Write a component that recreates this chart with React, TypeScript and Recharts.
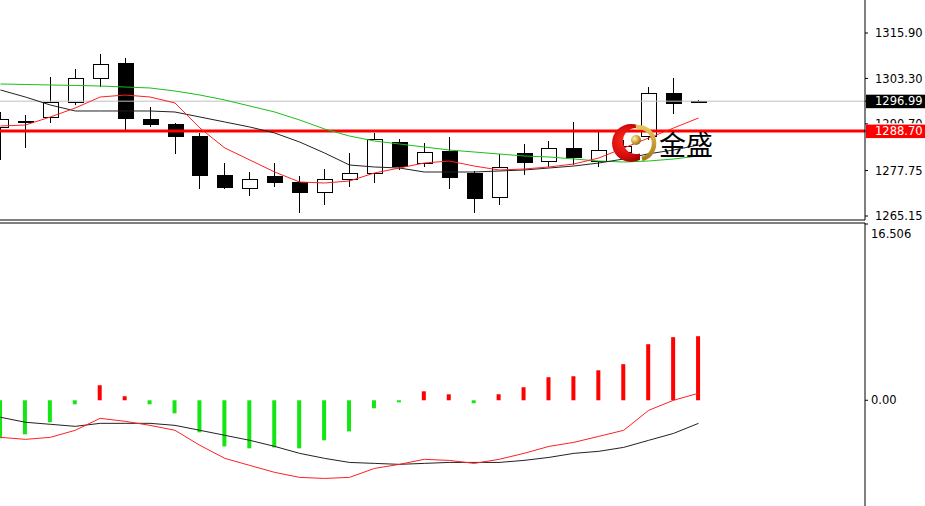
import { ComposedChart, Bar, Line, XAxis, YAxis, ReferenceLine, Cell } from 'recharts'

// daily candles
const opens = [1289.83, 1291.4, 1292.69, 1296.76, 1303.42, 1307.58, 1292.05, 1290.66, 1287.2, 1276.52, 1272.91, 1276.24, 1274.58, 1271.8, 1275.41, 1277.07, 1285.67, 1279.85, 1283.17, 1277.07, 1270.42, 1282.62, 1280.4, 1284.01, 1280.4, 1282.9, 1287.33, 1299.26, 1297.1]
const highs = [1293.99, 1293.16, 1303.7, 1305.92, 1310.07, 1308.97, 1295.38, 1290.94, 1288.17, 1279.85, 1277.35, 1279.85, 1276.24, 1278.18, 1282.62, 1288.17, 1286.5, 1285.39, 1287.06, 1277.63, 1282.34, 1285.12, 1285.95, 1291.22, 1288.44, 1286.23, 1300.92, 1303.42, 1297.3]
const lows = [1280.68, 1284.01, 1290.94, 1295.93, 1300.92, 1288.72, 1289.83, 1282.34, 1272.64, 1272.64, 1270.7, 1273.19, 1265.98, 1268.2, 1273.19, 1274.3, 1277.91, 1278.74, 1272.64, 1265.98, 1268.2, 1276.52, 1278.74, 1279.29, 1278.74, 1281.51, 1286.23, 1293.44, 1296.6]
const closes = [1292.05, 1291.6, 1296.85, 1303.42, 1307.3, 1292.33, 1290.66, 1287.33, 1276.52, 1273.19, 1275.41, 1274.58, 1271.8, 1275.41, 1277.07, 1286.5, 1279.01, 1282.9, 1275.96, 1270.14, 1278.74, 1280.12, 1284.01, 1281.51, 1283.45, 1284.56, 1299.26, 1296.49, 1296.99]

// moving averages
const maRed = [1290.11, 1290.38, 1292.6, 1295.1, 1298.15, 1298.7, 1298.15, 1296.49, 1289.55, 1284.01, 1280.68, 1277.35, 1274.58, 1274.3, 1274.86, 1277.07, 1278.46, 1279.85, 1280.4, 1279.01, 1277.91, 1278.18, 1278.74, 1279.57, 1281.23, 1284.01, 1286.78, 1289.55, 1292.33]
const maBlack = [1300.09, 1298.15, 1295.93, 1294.27, 1294.27, 1294.27, 1294.27, 1293.99, 1292.6, 1291.22, 1289.83, 1288.17, 1285.67, 1282.62, 1279.29, 1278.74, 1278.46, 1277.35, 1277.35, 1277.35, 1277.63, 1277.91, 1278.46, 1279.01, 1279.85, 1280.96, 1282.4, 1283.45, 1284.84]
const maGreen = [1301.76, 1301.62, 1301.48, 1301.34, 1301.2, 1300.92, 1300.65, 1299.81, 1298.7, 1297.32, 1295.65, 1293.99, 1291.77, 1289.28, 1287.33, 1285.95, 1285.12, 1284.28, 1283.45, 1282.9, 1282.34, 1281.79, 1281.51, 1280.96, 1280.4, 1280.12, 1280.4, 1280.96, 1281.79]

// MACD panel
const hist = [-3.56, -3.19, -2.06, -0.38, 1.41, 0.38, -0.38, -1.22, -3.0, -4.32, -4.5, -4.41, -4.5, -3.75, -2.91, -0.75, -0.19, 0.84, 0.56, -0.28, 0.56, 1.22, 2.16, 2.25, 2.81, 3.38, 5.25, 5.91, 6.0]
const macdRed = [-3.47, -3.66, -3.47, -2.81, -1.69, -1.97, -2.35, -2.81, -4.22, -5.44, -6.1, -6.75, -7.22, -7.32, -7.22, -6.38, -6.0, -5.53, -5.63, -5.91, -5.53, -4.97, -4.32, -3.94, -3.38, -2.81, -0.94, 0, 0.66]
const macdBlack = [-1.59, -2.06, -2.25, -2.44, -2.16, -2.16, -2.16, -2.35, -2.81, -3.28, -3.75, -4.32, -4.97, -5.44, -5.82, -5.91, -6.0, -5.91, -5.82, -5.82, -5.82, -5.63, -5.35, -4.97, -4.78, -4.41, -3.75, -3.1, -2.16]

const priceTicks = [1315.9, 1303.3, 1290.7, 1277.75, 1265.15]
const HIDDEN_TICK = 1290.7 // mostly covered by the red level tag
const LAST_PRICE = 1296.99
const LEVEL = 1288.7
const macdTicks = [16.506, 0]

const rows = opens.map((o, i) => ({
  i,
  open: o,
  high: highs[i],
  low: lows[i],
  close: closes[i],
  maRed: maRed[i],
  maBlack: maBlack[i],
  maGreen: maGreen[i],
  hist: hist[i],
  macdRed: macdRed[i],
  macdBlack: macdBlack[i],
}))

const FONT = '"DejaVu Sans", Verdana, sans-serif'

function Candle(props: any) {
  const { x, y, width, height, payload } = props
  const { open, close, high, low } = payload
  const cx = Math.round(x + width / 2) + 0.5
  const py = (v: number) => y + ((high - v) / (high - low)) * height
  const top = py(Math.max(open, close))
  const bot = py(Math.min(open, close))
  const up = close > open
  return (
    <g shapeRendering="crispEdges">
      <line x1={cx} x2={cx} y1={y} y2={y + height} stroke="#000" />
      <rect x={cx - 7.5} y={Math.round(top) + 0.5} width={15} height={Math.max(Math.round(bot - top), 0.5)} fill={up ? '#fff' : '#000'} stroke="#000" />
    </g>
  )
}

function PriceTick(props: any) {
  const { x, y, payload } = props
  const v = payload.value
  if (v === LAST_PRICE || v === LEVEL) {
    const bg = v === LAST_PRICE ? '#000' : '#ff0000'
    return (
      <g>
        <rect x={x - 9} y={y - 6.5} width={62} height={13.5} fill={bg} />
        <text x={x} y={y} dy="0.36em" fill="#fff" fontSize={11.5} fontFamily={FONT}>{v.toFixed(2)}</text>
      </g>
    )
  }
  if (v === HIDDEN_TICK) {
    return (
      <g>
        <clipPath id="tick-peek">
          <rect x={x - 2} y={y - 8} width={60} height={7.5} />
        </clipPath>
        <text x={x} y={y} dy="0.36em" fill="#000" fontSize={11.5} fontFamily={FONT} clipPath="url(#tick-peek)">{v.toFixed(2)}</text>
      </g>
    )
  }
  return <text x={x} y={y} dy="0.36em" fill="#000" fontSize={11.5} fontFamily={FONT}>{v.toFixed(2)}</text>
}

function MacdTick(props: any) {
  const { x, y, payload } = props
  const v = payload.value
  const label = v === 0 ? '0.00' : v.toFixed(3)
  return <text x={x - 4} y={v === 0 ? y : y + 10} dy="0.36em" fill="#000" fontSize={11.5} fontFamily={FONT}>{label}</text>
}

function Logo() {
  return (
    <svg width={120} height={50} style={{ position: 'absolute', left: 605, top: 118 }}>
      <defs>
        <radialGradient id="cres" cx="0.35" cy="0.45" r="0.7">
          <stop offset="0" stopColor="#ff3020" />
          <stop offset="0.55" stopColor="#d80c0c" />
          <stop offset="1" stopColor="#7a0000" />
        </radialGradient>
        <radialGradient id="ball" cx="0.35" cy="0.35" r="0.7">
          <stop offset="0" stopColor="#fff3b0" />
          <stop offset="0.5" stopColor="#d9b043" />
          <stop offset="1" stopColor="#8a6410" />
        </radialGradient>
        <linearGradient id="gold" x1="0" y1="0" x2="0" y2="1">
          <stop offset="0" stopColor="#e6c45a" />
          <stop offset="1" stopColor="#a87818" />
        </linearGradient>
        <clipPath id="left-part">
          <rect x={0} y={0} width={35} height={50} />
        </clipPath>
      </defs>
      <path
        d="M 7 25 A 19 19 0 1 0 45 25 A 19 19 0 1 0 7 25 Z M 18 23 A 13 13 0 1 0 44 23 A 13 13 0 1 0 18 23 Z"
        fill="url(#cres)"
        fillRule="evenodd"
        clipPath="url(#left-part)"
      />
      <path d="M 31 9.5 A 15 16 0 0 1 37 41" fill="none" stroke="url(#gold)" strokeWidth={4.5} />
      <circle cx={31} cy={22} r={5} fill="url(#ball)" />
      <text x={54} y={37} fontSize={27} fontFamily='"Noto Sans CJK SC", sans-serif' fill="#000">金盛</text>
    </svg>
  )
}

export default function App() {
  return (
    <div style={{ position: 'absolute', left: 0, top: 0, width: 925, height: 506, overflow: 'hidden', background: '#fff' }}>
      <div style={{ position: 'absolute', left: -12, top: 0 }}>
        <ComposedChart width={938} height={221} data={rows} margin={{ top: 0, right: 0, bottom: 0, left: 0 }}>
          <XAxis dataKey="i" height={1} tick={false} tickLine={false} axisLine={{ stroke: '#000' }} padding={{ left: 0, right: 154 }} />
          <YAxis
            orientation="right"
            width={61}
            type="number"
            domain={[1264.04, 1325.05]}
            allowDataOverflow
            ticks={[...priceTicks, LAST_PRICE, LEVEL]}
            interval={0}
            tickSize={3}
            tickMargin={7}
            tickLine={{ stroke: '#000' }}
            axisLine={{ stroke: '#000' }}
            tick={<PriceTick />}
          />
          <ReferenceLine y={LAST_PRICE} stroke="#c0c0c0" />
          <ReferenceLine y={LEVEL} stroke="#ff0000" strokeWidth={3} />
          <Line dataKey="maGreen" stroke="#19c019" dot={false} activeDot={false} strokeWidth={1} isAnimationActive={false} />
          <Line dataKey="maBlack" stroke="#222" dot={false} activeDot={false} strokeWidth={1} isAnimationActive={false} />
          <Line dataKey="maRed" stroke="#ff2020" dot={false} activeDot={false} strokeWidth={1} isAnimationActive={false} />
          <Bar dataKey={(d: any) => [d.low, d.high]} barSize={16} shape={<Candle />} activeBar={false} isAnimationActive={false} />
        </ComposedChart>
      </div>
      <div style={{ position: 'absolute', left: -12, top: 222 }}>
        <ComposedChart width={938} height={284} data={rows} margin={{ top: 0, right: 0, bottom: 0, left: 0 }}>
          <XAxis dataKey="i" orientation="top" height={1} tick={false} tickLine={false} axisLine={{ stroke: '#000' }} padding={{ left: 0, right: 154 }} />
          <YAxis
            orientation="right"
            width={61}
            type="number"
            domain={[-9.9, 16.6]}
            allowDataOverflow
            ticks={macdTicks}
            interval={0}
            tickSize={3}
            tickMargin={7}
            tickLine={{ stroke: '#000' }}
            axisLine={{ stroke: '#000' }}
            tick={<MacdTick />}
          />
          <Bar dataKey="hist" barSize={4} activeBar={false} isAnimationActive={false}>
            {rows.map((r) => (
              <Cell key={r.i} fill={r.hist < 0 ? '#14e614' : '#ff0000'} />
            ))}
          </Bar>
          <Line dataKey="macdBlack" stroke="#222" dot={false} activeDot={false} strokeWidth={1} isAnimationActive={false} />
          <Line dataKey="macdRed" stroke="#ff2020" dot={false} activeDot={false} strokeWidth={1} isAnimationActive={false} />
        </ComposedChart>
      </div>
      <Logo />
    </div>
  )
}
